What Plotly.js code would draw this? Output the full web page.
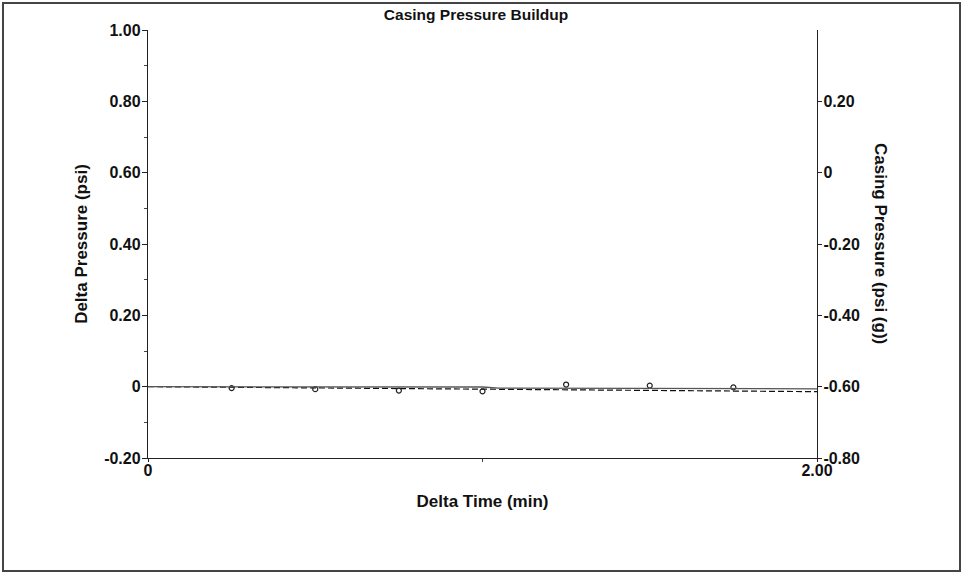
<!DOCTYPE html>
<html>
<head>
<meta charset="utf-8">
<script src="https://cdn.plot.ly/plotly-3.0.1.min.js"></script>
<style>
  html, body { margin: 0; padding: 0; background: #fff; }
  #chart { position: absolute; left: 0; top: 0; width: 963px; height: 575px; }
  #frame { position: absolute; left: 2px; top: 2px; width: 955px; height: 566px; border: 2px solid #444; pointer-events: none; }
</style>
</head>
<body>
<div id="chart"></div>
<div id="frame"></div>
<script>
// Delta pressure measurements (left axis)
const pointTime = [0.25, 0.5, 0.75, 1.0, 1.25, 1.5, 1.75];
const deltaPressure = [-0.004, -0.007, -0.011, -0.013, 0.006, 0.003, -0.002];

// Casing pressure (right axis), solid line
const casingTime = [0, 0.25, 0.5, 0.75, 1.0, 1.05, 1.25, 1.5, 1.75, 2.0];
const casingPressure = [-0.600, -0.600, -0.600, -0.600, -0.601, -0.604, -0.604, -0.605, -0.605, -0.606];

// Delta pressure trend (left axis), dashed line
const trendTime = [0, 0.25, 0.5, 0.75, 1.0, 1.25, 1.5, 1.75, 2.0];
const trendPressure = [0.0, -0.002, -0.003, -0.005, -0.008, -0.009, -0.011, -0.012, -0.014];

// Tick labels
const leftTickVals = [-0.2, 0, 0.2, 0.4, 0.6, 0.8, 1.0];
const leftTickText = ['-0.20', '0', '0.20', '0.40', '0.60', '0.80', '1.00'];
const rightTickVals = [-0.8, -0.6, -0.4, -0.2, 0, 0.2];
const rightTickText = ['-0.80', '-0.60', '-0.40', '-0.20', '0', '0.20'];
const xTickVals = [0, 2];
const xTickText = ['0', '2.00'];

const fam = 'Liberation Sans, Arial, sans-serif';
const tickFont = {family: fam, size: 16, color: '#111', weight: 'bold'};
const titleFont = {family: fam, size: 17, color: '#111'};

const traces = [
  {
    x: casingTime, y: casingPressure, yaxis: 'y2', type: 'scatter', mode: 'lines',
    line: {color: '#555', width: 1.3}, showlegend: false, hoverinfo: 'skip'
  },
  {
    x: trendTime, y: trendPressure, type: 'scatter', mode: 'lines',
    line: {color: '#111', width: 1.2, dash: '6px,3px'}, showlegend: false
  },
  {
    x: pointTime, y: deltaPressure, type: 'scatter', mode: 'markers',
    marker: {symbol: 'circle-open', size: 5, color: '#222', line: {width: 1.2, color: '#222'}},
    showlegend: false
  }
];

const layout = {
  width: 963, height: 575,
  margin: {l: 148, r: 146, t: 30, b: 117, pad: 0},
  paper_bgcolor: '#fff', plot_bgcolor: 'rgba(0,0,0,0)',
  font: {family: fam, size: 14, color: '#111'},
  showlegend: false,
  title: {text: '<b>Casing Pressure Buildup</b>', xref: 'paper', x: (476 - 148) / 669, xanchor: 'center', y: 0.974, yanchor: 'middle', font: {family: fam, size: 15.5, color: '#111'}},
  xaxis: {
    range: [0, 2], showgrid: false, zeroline: false, showline: true, linecolor: '#222', linewidth: 1.2,
    ticks: 'outside', ticklen: 3, tickcolor: '#222', tickvals: xTickVals, ticktext: xTickText,
    tickfont: tickFont, ticklabelstandoff: -5,
    minor: {ticks: 'outside', ticklen: 3, dtick: 1, tickcolor: '#444'},
    title: {text: '<b>Delta Time (min)</b>', standoff: 16, font: titleFont},
    fixedrange: true
  },
  yaxis: {
    range: [-0.2, 1.0], showgrid: false, zeroline: false, showline: true, linecolor: '#222', linewidth: 1.2,
    ticks: 'outside', ticklen: 5, tickcolor: '#222', tickvals: leftTickVals, ticktext: leftTickText,
    tickfont: tickFont, ticklabelstandoff: -2,
    minor: {ticks: 'outside', ticklen: 3, dtick: 0.1, tickcolor: '#444'},
    title: {text: '<b>Delta Pressure (psi)</b>', standoff: 12, font: titleFont},
    fixedrange: true
  },
  yaxis2: {
    overlaying: 'y', side: 'right', range: [-0.8, 0.4], showgrid: false, zeroline: false,
    showline: true, linecolor: '#222', linewidth: 1.2,
    ticks: 'outside', ticklen: 4, tickcolor: '#222', tickvals: rightTickVals, ticktext: rightTickText,
    tickfont: tickFont, ticklabelstandoff: -2,
    fixedrange: true
  },
  annotations: [
    {
      text: '<b>Casing Pressure (psi (g))</b>', xref: 'paper', yref: 'paper',
      x: 1.0 + (881 - 817) / 669, y: 0.5, xanchor: 'center', yanchor: 'middle',
      textangle: 90, showarrow: false, font: titleFont
    }
  ]
};

Plotly.newPlot('chart', traces, layout, {staticPlot: true, displayModeBar: false});
</script>
</body>
</html>
